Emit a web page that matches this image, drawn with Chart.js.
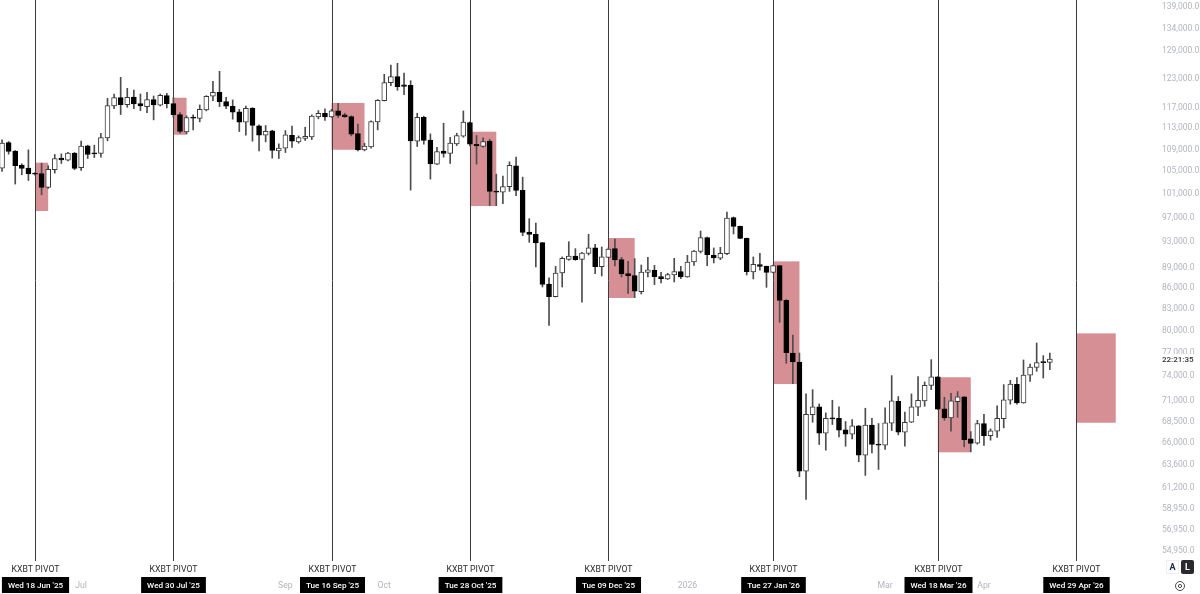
<!DOCTYPE html>
<html>
<head>
<meta charset="utf-8">
<title>KXBT PIVOT</title>
<script src="https://cdn.jsdelivr.net/npm/chart.js@4"></script>
<style>
html, body { margin: 0; padding: 0; background: #fff; }
canvas { display: block; }
</style>
</head>
<body>
<canvas id="myChart" width="1200" height="594"></canvas>
<script>
// 2D candles
const opens = [105390,110090,108480,105930,105390,104430,104430,101980,105090,107190,106830,108110,105450,109470,108110,108050,110980,117190,118870,117460,119000,117660,117060,118470,117330,119270,117660,115480,112120,114900,114700,116400,119140,119950,118070,117130,116000,113990,116730,113270,111480,112310,108540,109040,111480,110220,110850,111170,115030,115740,115030,116200,115420,115090,111800,108730,109290,114050,118270,121950,123200,121470,121400,110350,114960,110540,106110,108480,108050,109850,111290,113920,109780,109350,110350,101340,101160,102100,105810,101450,94500,94120,92790,86470,84620,88110,90190,90710,90190,91120,91960,89070,90500,91850,90140,88010,87710,85350,88210,88520,87560,87220,87810,88310,87510,89780,91430,93590,90860,90350,91070,96840,95420,93480,88260,89380,89120,88210,89220,84090,76860,75690,62820,69190,70100,67020,68800,68760,67400,66910,67870,64550,67950,65780,65660,68170,70780,67130,68290,70060,70820,72730,73780,69860,68800,70740,71310,66380,65890,68140,66750,67250,68720,70900,72860,70580,73990,75000,75690,75640];
const closes = [109970,108420,105810,105330,104370,104310,101980,105150,107130,106890,108110,105330,109410,107870,107990,111040,117260,118870,117460,118930,117600,117190,118470,117400,119340,117660,115480,112180,114900,114770,116530,119140,119950,118070,117130,115940,113990,116730,113340,111480,112240,108600,109040,111540,110350,111040,111290,115160,115740,115030,116200,115290,115030,111670,108730,109410,114110,118340,121950,123200,121120,121190,110410,114960,110470,106170,108420,108050,109970,111420,113990,109780,109470,110290,101280,101160,102100,105870,101460,94450,94120,92740,86420,84620,88110,90350,90710,90140,91170,91960,89070,90560,91800,90090,87960,87710,85400,88260,88570,87560,87270,87860,88310,87510,89780,91480,93590,90910,90400,91120,96790,95420,93480,88310,89430,89120,88210,89220,84090,76900,75690,62820,69230,70100,67020,68760,68680,67360,66910,67870,64550,67950,65740,65660,68210,70820,67130,68290,70100,70900,72730,73780,69820,68800,70820,71310,66300,65850,68140,66750,67290,68760,70940,72900,70580,74030,75040,75600,75600,76080];
const highs = [110600,110290,108600,106170,108730,104610,106290,105810,107870,107990,108290,108230,110350,109600,109600,111860,118730,119610,123060,120770,120430,119610,119950,119200,119610,119750,118870,115870,115220,115420,117400,119270,122220,124330,118940,118400,116530,117190,116860,113470,113340,112440,109850,112370,113210,111350,113010,115420,116270,116600,116530,117730,115740,115220,113600,109970,114240,118470,123690,125680,126040,123970,122360,115740,115160,111730,109220,113790,111100,111860,116200,114050,111420,110980,110730,104310,103960,106530,107380,103780,96670,95960,92790,87370,89120,90560,92950,91850,91270,94120,92530,92110,91960,93380,90500,89890,90300,89320,90500,89270,88210,88060,90350,89120,90810,91590,94660,93690,91960,92060,97780,96950,95470,93530,90560,91120,89170,89320,89270,84190,79260,76860,71670,72200,70460,69390,70900,70100,68370,68600,67910,69940,68760,68140,69980,73950,71350,69470,71670,73820,73150,75990,73820,71270,71750,71950,71350,67210,68520,69230,67520,70220,72820,73360,73690,75950,75430,78180,76510,76860];
const lows = [104790,107930,102560,104190,103190,104130,100700,101800,104490,106230,106710,105090,104970,107130,107310,107380,110410,116660,115480,116930,116660,116270,115870,114440,117190,116790,114960,111860,111730,112500,114050,116200,118270,117060,116660,114570,112180,111480,110350,108540,110220,107190,107130,108230,109160,109970,110470,110660,114640,114310,114900,114900,114960,111350,108540,108540,109040,112500,118200,121330,120360,119480,101510,109350,109780,103430,105990,107380,106230,109530,111100,109470,106110,109220,98840,98840,99180,101280,100530,93910,92850,89020,86030,80580,84570,86030,90040,90040,83810,90860,88010,87660,90500,89170,87510,85100,84480,85000,87510,86380,86620,87120,86770,87270,87460,89270,91170,89220,89630,90140,90910,94180,93430,87810,87220,88520,85980,88110,80990,75520,72950,62220,59860,68290,65740,65110,68020,66600,65550,66380,63830,62360,64810,63000,65180,67330,66830,65550,68250,69070,70180,72200,69780,68520,67250,68870,65480,64920,65780,65630,66230,66530,67630,70420,70420,70540,73230,74500,73650,74710];

// pivot boxes, candle index from/to and price top/bottom
const boxFrom = [5, 26, 50, 71, 92, 117, 142, 163];
const boxTo = [7, 28, 55, 75, 96, 121, 147, 169];
const boxTop = [106370, 118850, 117790, 112150, 93530, 89880, 73740, 79480];
const boxBottom = [97950, 111570, 108750, 98780, 84430, 72890, 64870, 68230];

const pivotIndex = [5, 26, 50, 71, 92, 117, 142, 163];
const pivotDates = ["Wed 18 Jun '25", "Wed 30 Jul '25", "Tue 16 Sep '25", "Tue 28 Oct '25", "Tue 09 Dec '25", "Tue 27 Jan '26", "Wed 18 Mar '26", "Wed 29 Apr '26"];

const monthIndex = [12, 43, 58, 104, 134, 149];
const monthLabels = ["Jul", "Sep", "Oct", "2026", "Mar", "Apr"];

const priceTicks = [139000, 134000, 129000, 123000, 117000, 113000, 109000, 105000, 101000, 97000, 93000, 89000, 86000, 83000, 80000, 77000, 74000, 71000, 68500, 66000, 63600, 61200, 58950, 56950, 54950];

const FONT = "Roboto, sans-serif";
const BOX_COLOR = "#d68f95";
const MUTED = "#b2b5be";

const wickData = highs.map((h, i) => ({ x: i, y: [lows[i], h] }));
const bodyData = opens.map((o, i) => ({ x: i, y: [o, closes[i]] }));
const bodyColors = opens.map((o, i) => (closes[i] > o ? "#ffffff" : "#000000"));
const bodyBorders = opens.map((o, i) => (closes[i] > o ? "#3a3a3a" : "#000000"));

const pivotPlugin = {
    id: "pivots",
    beforeDatasetsDraw(chart) {
        const c = chart.ctx;
        const x = chart.scales.x;
        const y = chart.scales.y;
        c.save();
        c.fillStyle = BOX_COLOR;
        boxFrom.forEach((from, i) => {
            const left = x.getPixelForValue(from);
            const top = y.getPixelForValue(boxTop[i]);
            c.fillRect(left, top, x.getPixelForValue(boxTo[i]) - left, y.getPixelForValue(boxBottom[i]) - top);
        });
        c.strokeStyle = "#3c3c3c";
        c.lineWidth = 1;
        pivotIndex.forEach((idx) => {
            const px = Math.round(x.getPixelForValue(idx)) + 0.5;
            c.beginPath();
            c.moveTo(px, 0);
            c.lineTo(px, 561);
            c.stroke();
        });
        c.restore();
    },
    afterDraw(chart) {
        const c = chart.ctx;
        const x = chart.scales.x;
        c.save();
        c.textAlign = "center";
        c.textBaseline = "middle";
        pivotIndex.forEach((idx, i) => {
            const px = Math.round(x.getPixelForValue(idx)) + 0.5;
            c.font = "8.7px " + FONT;
            c.fillStyle = "#2a2a2a";
            c.fillText("KXBT PIVOT", px, 569.5);
            c.font = "500 8.1px " + FONT;
            const w = c.measureText(pivotDates[i]).width + 12;
            c.fillStyle = "#000000";
            c.fillRect(px - w / 2, 577, w, 16);
            c.fillStyle = "#ffffff";
            c.fillText(pivotDates[i], px, 586);
        });

        // countdown under the last price
        c.fillStyle = "#ffffff";
        c.fillRect(1158, 354, 42, 11);
        c.fillStyle = "#333333";
        c.font = "500 8px " + FONT;
        c.textAlign = "left";
        c.fillText("22:21:35", 1162, 359.5);

        // A / L buttons and settings icon
        c.strokeStyle = "#eceef2";
        c.strokeRect(1166.5, 560.5, 12, 13);
        c.fillStyle = "#1c2a4a";
        c.textAlign = "center";
        c.font = "bold 9px " + FONT;
        c.fillText("A", 1172.5, 567.5);
        c.fillStyle = "#2a2a2e";
        c.beginPath();
        c.roundRect(1181, 560, 13, 14, 2);
        c.fill();
        c.fillStyle = "#ffffff";
        c.fillText("L", 1187.5, 567.5);
        c.strokeStyle = "#4a4a4a";
        c.lineWidth = 1;
        c.beginPath();
        c.arc(1180, 586, 4.5, 0, Math.PI * 2);
        c.stroke();
        c.beginPath();
        c.arc(1180, 586, 1.6, 0, Math.PI * 2);
        c.stroke();
        c.restore();
    },
};

const ctx = document.getElementById("myChart").getContext("2d");
const myChart = new Chart(ctx, {
    type: "bar",
    data: {
        datasets: [
            {
                label: "Wick",
                data: wickData,
                backgroundColor: "#4d4d4d",
                barThickness: 1,
                grouped: false,
                order: 2,
            },
            {
                label: "Body",
                data: bodyData,
                backgroundColor: bodyColors,
                borderColor: bodyBorders,
                borderWidth: 1,
                borderSkipped: false,
                barThickness: 5,
                minBarLength: 1,
                grouped: false,
                order: 1,
            },
        ],
    },
    options: {
        responsive: false,
        animation: false,
        events: [],
        layout: { padding: 0 },
        plugins: {
            legend: { display: false },
            tooltip: { enabled: false },
        },
        scales: {
            x: {
                type: "linear",
                offset: false,
                min: -0.311,
                max: 174.5,
                grid: { display: false, drawTicks: false },
                border: { display: false },
                ticks: {
                    autoSkip: false,
                    maxRotation: 0,
                    padding: 21,
                    color: MUTED,
                    font: { family: FONT, size: 8.7 },
                    callback: (value, index) => monthLabels[index],
                },
                afterBuildTicks(scale) {
                    scale.ticks = monthIndex.map((v) => ({ value: v }));
                },
                afterFit(scale) {
                    scale.height = 34;
                    scale.paddingLeft = 0;
                    scale.paddingRight = 0;
                },
            },
            y: {
                type: "logarithmic",
                position: "right",
                min: 53975,
                max: 140431,
                grid: { display: false, drawTicks: false },
                border: { display: false },
                ticks: {
                    autoSkip: false,
                    padding: 10,
                    labelOffset: 1,
                    color: MUTED,
                    font: { family: FONT, size: 8.5 },
                    callback: (value) => value.toLocaleString("en-US") + ".0",
                },
                afterBuildTicks(scale) {
                    scale.ticks = priceTicks.map((v) => ({ value: v }));
                },
                afterFit(scale) {
                    scale.width = 48;
                    scale.paddingTop = 0;
                    scale.paddingBottom = 0;
                },
            },
        },
    },
    plugins: [pivotPlugin],
});
</script>
</body>
</html>
